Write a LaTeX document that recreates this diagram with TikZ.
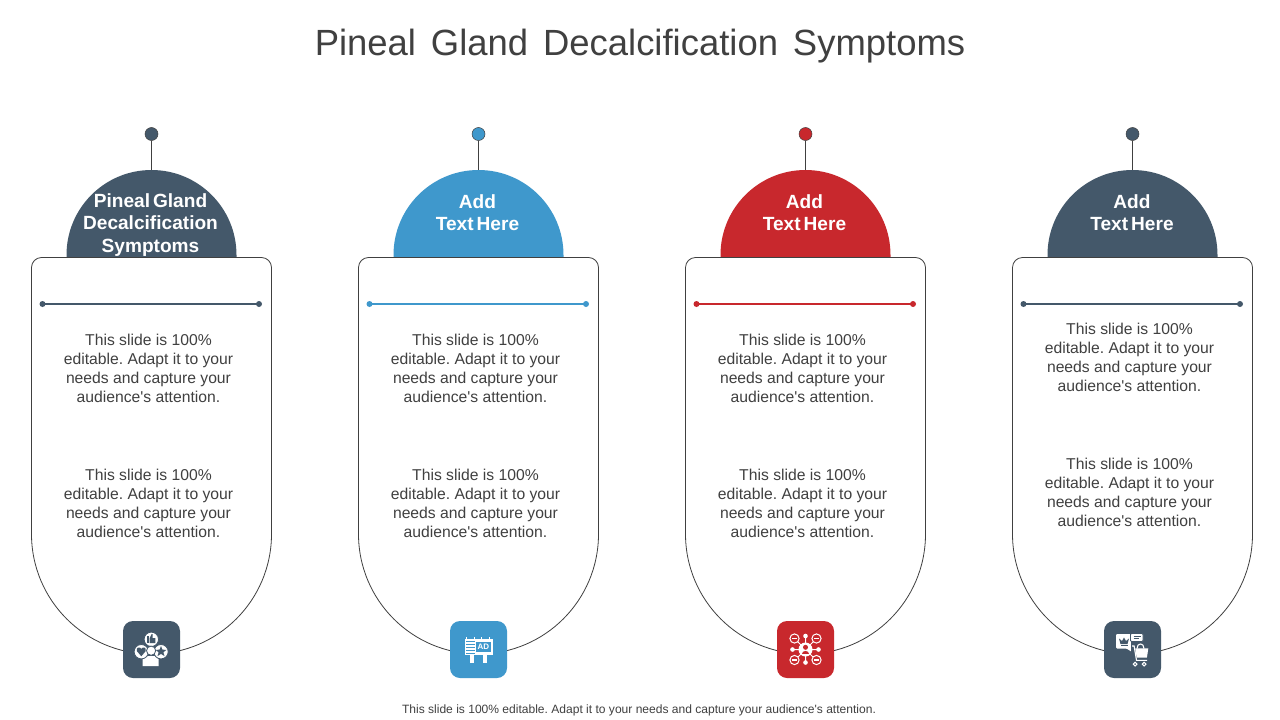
\documentclass[tikz,border=0pt]{standalone}
\usepackage{fontspec}
\setmainfont{Liberation Sans}
\frenchspacing
\definecolor{navy}{HTML}{44586A}
\definecolor{sky}{HTML}{3F98CC}
\definecolor{crim}{HTML}{C8282D}
\definecolor{ink}{HTML}{404040}
\tikzset{
  pin/.style={circle,inner sep=0pt,minimum size=13pt,line width=0.5pt,draw=ink},
  stem/.style={draw=ink,line width=0.9pt},
  card/.style={draw=ink,line width=0.8pt,fill=white},
  rulerdot/.style={circle,inner sep=0pt,minimum size=6pt},
  ruler/.style={line width=2pt},
  body/.style={align=center,text=ink,inner sep=0pt,font=\fontsize{15.7}{19}\selectfont},
  head/.style={align=center,text=white,inner sep=0pt,font=\fontsize{19.1}{22.5}\selectfont\bfseries\spaceskip 3pt\relax},
  iconbox/.style={rounded corners=10pt,minimum size=57pt,inner sep=0pt},
}
\newcommand{\apos}{{\fontspec{Liberation Sans}'}}
\newcommand{\bodytxt}{This slide is 100\%\\editable. Adapt it to your\\needs and capture your\\audience\apos s attention.}
% #1 id, #2 x centre, #3 colour, #4 head text, #5 body top y, #6 icon macro, #7 head x, #8 body x, #9 head y
\newcommand{\pillar}[9]{
  \fill[#3] (#2-85,257) -- (#2-85,255) arc (180:360:85) -- (#2+85,257) -- cycle;
  \coordinate (dome#1) at (#2,170);
  \node[pin,fill=#3] (pin#1) at (#2,134) {};
  \draw[stem] (pin#1) -- (dome#1);
  \draw[card] (#2-120,534) -- (#2-120,267.5) arc (180:270:10) -- (#2+110,257.5) arc (270:360:10) -- (#2+120,534) arc (0:180:120) -- cycle;
  \node[head] (head#1) at (#7,#9) {#4};
  \node[rulerdot,fill=#3] (la#1) at (#2-109,304) {};
  \node[rulerdot,fill=#3] (lb#1) at (#2+107.5,304) {};
  \draw[ruler,#3] (la#1.center) -- (lb#1.center);
  \node[body] (ta#1) at (#8,#5) {\bodytxt};
  \node[body] (tb#1) at (#8,#5+135) {\bodytxt};
  \node[iconbox,fill=#3] (box#1) at (#2,649.5) {};
  \begin{scope}[shift={(#2,649.5)}]#6\end{scope}
}
\newcommand{\iconA}{
  \fill[white] (-9,16.5) -- (-9,10) .. controls (-9,8) and (-6,7) .. (-3,6.5) -- (3,6.5) .. controls (5,7) and (7.2,8) .. (7.2,10) -- (7.2,16.5) -- cycle;
  \fill[white,draw=navy,line width=0.8pt] (-0.2,-10.2) circle (7.2);
  \fill[white,draw=navy,line width=0.8pt] (-10.2,2.2) circle (7.2);
  \fill[white,draw=navy,line width=0.8pt] (9.5,2.2) circle (7.2);
  \fill[navy] (-4.2,-14) rectangle (-2.6,-6.5);
  \fill[navy] (-2,-6.5) -- (-2,-11) -- (0.2,-15.5) -- (1.2,-15.5) -- (1.2,-11.5) -- (3.8,-11.5) -- (3.8,-6.5) -- cycle;
  \fill[navy] (-10.2,6.8) -- (-14.6,1.6) .. controls (-15.8,-2) and (-11.6,-3.4) .. (-10.2,-0.6) .. controls (-8.8,-3.4) and (-4.6,-2) .. (-5.8,1.6) -- cycle;
  \fill[navy] (9.5,-3.4) -- (11,0.2) -- (15,0.3) -- (11.9,2.8) -- (13,6.6) -- (9.5,4.4) -- (6,6.6) -- (7.1,2.8) -- (4,0.3) -- (8,0.2) -- cycle;
  \fill[white,draw=navy,line width=0.8pt] (-0.4,1.2) circle (4.6);
}
\newcommand{\iconB}{
  \foreach \tx in {-12.5,-5,2.5,10}{\fill[white] (\tx,-12.6) rectangle (\tx+1,-10.5);}
  \fill[white] (-14,-10.5) rectangle (14,5.5);
  \fill[sky] (-2.5,-7.8) rectangle (12.2,2.2);
  \foreach \ty in {-8.5,-5.5,-2.5,0.5,3}{\fill[sky] (-12.2,\ty) rectangle (-4,\ty+0.8);}
  \fill[white] (-9,5.5) rectangle (-5,13.2);
  \fill[white] (4.2,5.5) rectangle (8,13.2);
  \node[text=white,inner sep=0pt,font=\fontsize{8}{8}\selectfont\bfseries] (adtag) at (4.9,-2.8) {AD};
}
\newcommand{\iconC}{
  \draw[white,line width=1pt] (0,-13.5) -- (0,13) (-13,0) -- (13,0) (-11,-11) -- (11,11) (11,-11) -- (-11,11);
  \foreach \px/\py in {0/-13.5,0/13,-13/0,13/0}{\fill[white] (\px,\py) circle (2.3);}
  \foreach \px/\py in {-11/-11,11/-11,-11/10.5,11/10.5}{
    \fill[crim,draw=white,line width=1pt] (\px,\py) circle (4.6);
    \fill[white] (\px-2.4,\py-0.8) rectangle (\px+2.4,\py+0.8);}
  \fill[white] (0,0) circle (7);
  \fill[crim] (0,-2.2) circle (2.5);
  \fill[crim] (-3.9,4.4) .. controls (-3.9,0.6) and (3.9,0.6) .. (3.9,4.4) -- cycle;
}
\newcommand{\iconD}{
  \fill[white,rounded corners=1pt] (-16.5,-15.5) -- (-1,-15.5) -- (-1,-1) -- (-2,-1) -- (1,3.5) -- (-6,-1) -- (-16.5,-1) -- cycle;
  \fill[navy] (-13.5,-11) -- (-10.5,-8.5) -- (-8.5,-12) -- (-6.5,-8.5) -- (-3.5,-11) -- (-5,-5.5) -- (-12,-5.5) -- cycle;
  \fill[navy] (-12,-4.4) rectangle (-5,-3.2);
  \fill[white,draw=navy,line width=0.8pt,rounded corners=1pt] (-2,-16) rectangle (10.5,-8);
  \draw[navy,line width=0.9pt] (1,-13.5) -- (8,-13.5) (1,-10.8) -- (6,-10.8);
  \fill[navy] (-1.5,-8) rectangle (17,17);
  \draw[white,line width=1.1pt] (4.5,-1) .. controls (4.5,-7) and (11.5,-7) .. (11.5,-1);
  \fill[white] (2.8,-1.2) -- (15.8,-1.2) -- (14.4,8.2) -- (4.2,8.2) -- cycle;
  \draw[white,line width=1.1pt] (-0.5,-3.5) -- (1.6,-3.5) -- (4,10.8) -- (14.5,10.8);
  \draw[white,line width=1pt,fill=navy] (2.6,14.6) circle (1.9);
  \draw[white,line width=1pt,fill=navy] (11.6,14.6) circle (1.9);
}
\begin{document}
\begin{tikzpicture}[x=1pt,y=-1pt]
\useasboundingbox (0,0) rectangle (1280,720);
\fill[white] (0,0) rectangle (1280,720);
\node[text=ink,inner sep=0pt,font=\fontsize{36.45}{44}\selectfont\spaceskip 14.9pt\relax] (title) at (640,46) {Pineal Gland Decalcification Symptoms};
\pillar{1}{151.5}{navy}{Pineal Gland\\Decalcification\\Symptoms}{368}{\iconA}{150.5}{148.5}{225}
\pillar{2}{478.5}{sky}{Add\\Text Here}{368}{\iconB}{477.5}{475.5}{212.5}
\pillar{3}{805.5}{crim}{Add\\Text Here}{368}{\iconC}{804.5}{802.5}{212.5}
\pillar{4}{1132.5}{navy}{Add\\Text Here}{357}{\iconD}{1132}{1129.5}{212.5}
\node[text=ink,inner sep=0pt,font=\fontsize{12.05}{14}\selectfont] (foot) at (639,710) {This slide is 100\% editable. Adapt it to your needs and capture your audience\apos s attention.};
\end{tikzpicture}
\end{document}
